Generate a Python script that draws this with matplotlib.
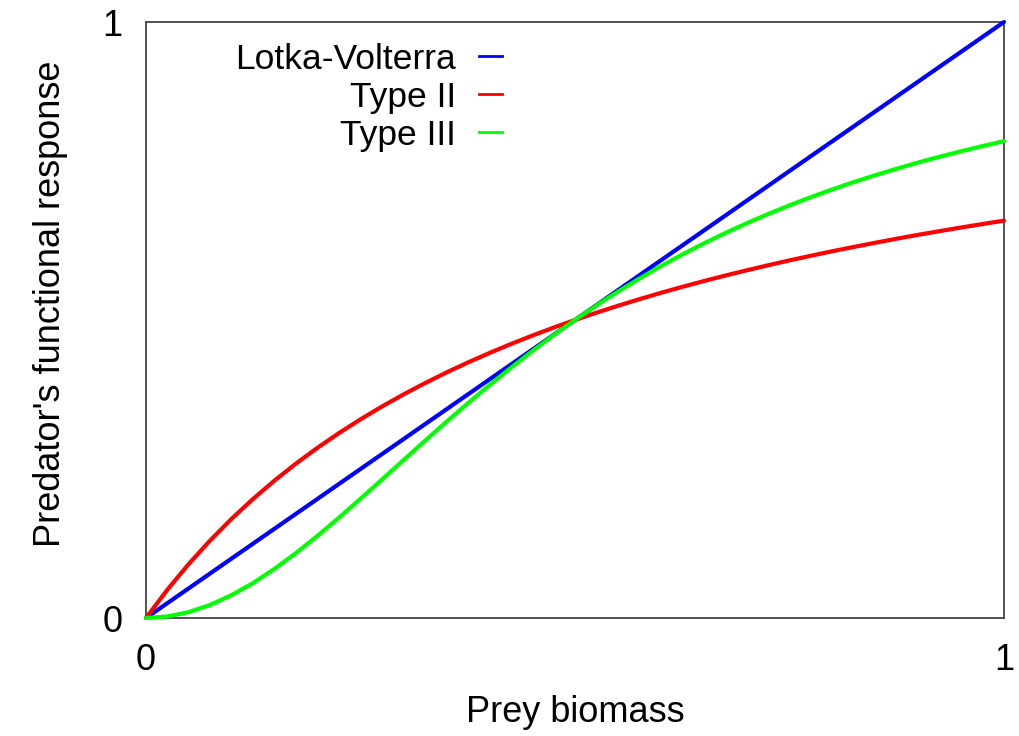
import matplotlib
matplotlib.use("Agg")
import matplotlib.pyplot as plt
from matplotlib.lines import Line2D

# prey biomass sample points
x_vals = [0.000, 0.025, 0.050, 0.075, 0.100, 0.125, 0.150, 0.175, 0.200, 0.225,
          0.250, 0.275, 0.300, 0.325, 0.350, 0.375, 0.400, 0.425, 0.450, 0.475,
          0.500, 0.525, 0.550, 0.575, 0.600, 0.625, 0.650, 0.675, 0.700, 0.725,
          0.750, 0.775, 0.800, 0.825, 0.850, 0.875, 0.900, 0.925, 0.950, 0.975,
          1.000]

# functional responses
lotka_volterra = list(x_vals)
type_ii = [0.0000, 0.0476, 0.0909, 0.1304, 0.1667, 0.2000, 0.2308, 0.2593, 0.2857, 0.3103,
           0.3333, 0.3548, 0.3750, 0.3939, 0.4118, 0.4286, 0.4444, 0.4595, 0.4737, 0.4872,
           0.5000, 0.5122, 0.5238, 0.5349, 0.5455, 0.5556, 0.5652, 0.5745, 0.5833, 0.5918,
           0.6000, 0.6078, 0.6154, 0.6226, 0.6296, 0.6364, 0.6429, 0.6491, 0.6552, 0.6610,
           0.6667]
type_iii = [0.0000, 0.0025, 0.0099, 0.0220, 0.0385, 0.0588, 0.0826, 0.1091, 0.1379, 0.1684,
            0.2000, 0.2322, 0.2647, 0.2970, 0.3289, 0.3600, 0.3902, 0.4194, 0.4475, 0.4744,
            0.5000, 0.5244, 0.5475, 0.5694, 0.5902, 0.6098, 0.6283, 0.6457, 0.6622, 0.6777,
            0.6923, 0.7061, 0.7191, 0.7314, 0.7429, 0.7538, 0.7642, 0.7739, 0.7831, 0.7918,
            0.8000]

labels = ["Lotka-Volterra", "Type II", "Type III"]
colors = ["#0000ff", "#ff0000", "#00ff00"]

plt.rcParams['font.family'] = ['Liberation Sans', 'DejaVu Sans']
FS = 26

fig = plt.figure(figsize=(10.2, 7.36), dpi=100)
ax = fig.add_axes([146 / 1020, 1 - 618 / 736, 858 / 1020, 596 / 736])

series = [lotka_volterra, type_ii, type_iii]
for ys, c in zip(series, colors):
    ax.plot(x_vals, ys, color=c, lw=3, solid_capstyle='round', clip_on=False, zorder=3)

ax.set_xlim(0, 1)
ax.set_ylim(0, 1)
ax.set_xticks([0, 1])
ax.set_yticks([0, 1])
ax.set_xticklabels(["0", "1"])
ax.set_yticklabels(["0", "1"])
ax.tick_params(length=0, labelsize=FS)
ax.tick_params(axis='x', pad=18)
ax.tick_params(axis='y', pad=17)

for sp in ax.spines.values():
    sp.set_color('#444444')
    sp.set_linewidth(1.3)

ax.set_xlabel("Prey biomass", fontsize=FS)
ax.set_ylabel("Predator's functional response", fontsize=FS)
ax.xaxis.set_label_coords(0.5, -0.129)
ax.yaxis.set_label_coords(-0.091, 0.527)

handles = [Line2D([], [], color=c, lw=2) for c in colors]
ax.legend(handles, labels, loc='upper right', bbox_to_anchor=(0.415, 0.965),
          frameon=False, markerfirst=False, fontsize=25.5, handlelength=0.66,
          handletextpad=0.64, labelspacing=0.14, borderpad=0, borderaxespad=0)

fig.savefig("out.png", dpi=100)
